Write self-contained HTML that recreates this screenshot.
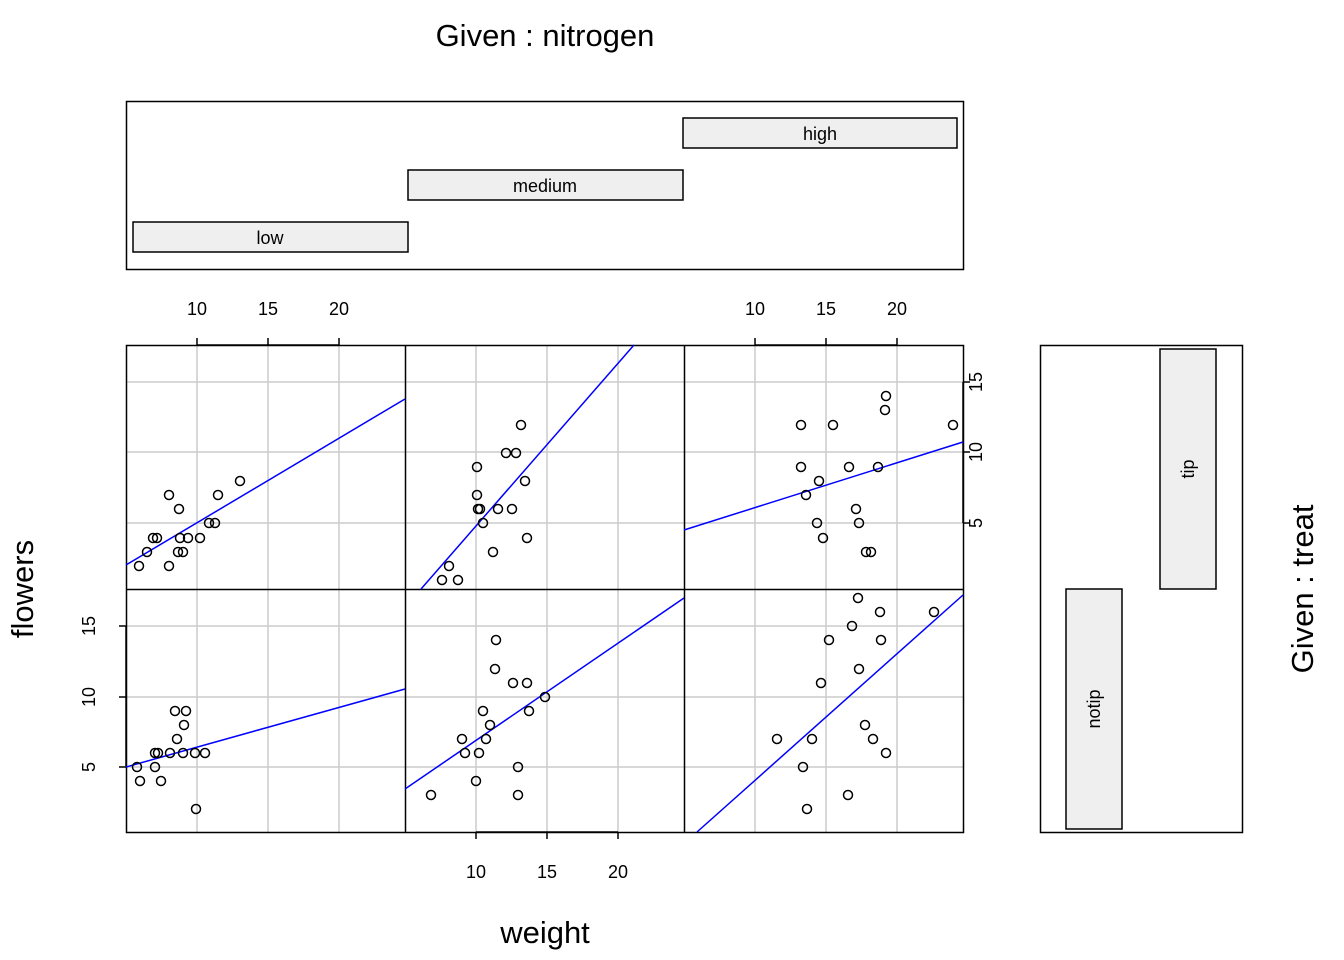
<!DOCTYPE html>
<html><head><meta charset="utf-8"><style>body{margin:0;background:#fff}svg{display:block}text{font-family:"Liberation Sans",sans-serif;fill:#000}</style></head>
<body>
<svg width="1344" height="960" viewBox="0 0 1344 960" xmlns="http://www.w3.org/2000/svg">
<text x="545" y="46" font-size="31" text-anchor="middle">Given : nitrogen</text>
<rect x="126.5" y="101.5" width="837" height="168" fill="none" stroke="#000" stroke-width="1.5"/>
<rect x="133" y="222" width="275" height="30" fill="#efefef" stroke="#000" stroke-width="1.5"/>
<text x="270" y="244" font-size="18" text-anchor="middle">low</text>
<rect x="408" y="170" width="275" height="30" fill="#efefef" stroke="#000" stroke-width="1.5"/>
<text x="545" y="192" font-size="18" text-anchor="middle">medium</text>
<rect x="683" y="118" width="274" height="30" fill="#efefef" stroke="#000" stroke-width="1.5"/>
<text x="820" y="140" font-size="18" text-anchor="middle">high</text>

<g stroke="#cccccc" stroke-width="1.5">
<path d="M197 345V832M268 345V832M339 345V832M476 345V832M547 345V832M618 345V832M755 345V832M826 345V832M897 345V832"/>
<path d="M126 382H963M126 452H963M126 523H963M126 626H963M126 697H963M126 767H963"/>
</g>
<g fill="none" stroke="#000" stroke-width="1.5">
<rect x="126.5" y="345.5" width="837" height="487"/>
<path d="M405.5 345V832M684.5 345V832M126 589.5H963"/>
<path d="M197 345H339M197 345V338M268 345V338M339 345V338"/>
<path d="M755 345H897M755 345V338M826 345V338M897 345V338"/>
<path d="M476 832H618M476 832V839M547 832V839M618 832V839"/>
<path d="M963 382V523M963 382H970M963 452H970M963 523H970"/>
<path d="M126 626V767M126 626H119M126 697H119M126 767H119"/>
</g>
<g font-size="18" text-anchor="middle">
<text x="197" y="315">10</text><text x="268" y="315">15</text><text x="339" y="315">20</text>
<text x="755" y="315">10</text><text x="826" y="315">15</text><text x="897" y="315">20</text>
<text x="476" y="878">10</text><text x="547" y="878">15</text><text x="618" y="878">20</text>
<text transform="translate(982,382) rotate(-90)">15</text><text transform="translate(982,452) rotate(-90)">10</text><text transform="translate(982,523) rotate(-90)">5</text>
<text transform="translate(95,626) rotate(-90)">15</text><text transform="translate(95,697) rotate(-90)">10</text><text transform="translate(95,767) rotate(-90)">5</text>
</g>
<g stroke="#0000ff" stroke-width="1.5" fill="none">
<path d="M126 565L405 399"/>
<path d="M421 589L634 345"/>
<path d="M684 530L963 442"/>
<path d="M126 767L405 689"/>
<path d="M405 789L684 598"/>
<path d="M697 832L963 595"/>
</g>
<g fill="none" stroke="#000" stroke-width="1.5">
<circle cx="139" cy="566" r="4.5"/><circle cx="169" cy="566" r="4.5"/><circle cx="147" cy="552" r="4.5"/><circle cx="178" cy="552" r="4.5"/><circle cx="183" cy="552" r="4.5"/><circle cx="153" cy="538" r="4.5"/><circle cx="157" cy="538" r="4.5"/><circle cx="180" cy="538" r="4.5"/><circle cx="188" cy="538" r="4.5"/><circle cx="200" cy="538" r="4.5"/><circle cx="209" cy="523" r="4.5"/><circle cx="215" cy="523" r="4.5"/><circle cx="169" cy="495" r="4.5"/><circle cx="179" cy="509" r="4.5"/><circle cx="218" cy="495" r="4.5"/><circle cx="240" cy="481" r="4.5"/>
<circle cx="442" cy="580" r="4.5"/><circle cx="458" cy="580" r="4.5"/><circle cx="449" cy="566" r="4.5"/><circle cx="493" cy="552" r="4.5"/><circle cx="527" cy="538" r="4.5"/><circle cx="483" cy="523" r="4.5"/><circle cx="478" cy="509" r="4.5"/><circle cx="480" cy="509" r="4.5"/><circle cx="498" cy="509" r="4.5"/><circle cx="512" cy="509" r="4.5"/><circle cx="477" cy="495" r="4.5"/><circle cx="525" cy="481" r="4.5"/><circle cx="477" cy="467" r="4.5"/><circle cx="506" cy="453" r="4.5"/><circle cx="516" cy="453" r="4.5"/><circle cx="521" cy="425" r="4.5"/>
<circle cx="801" cy="425" r="4.5"/><circle cx="833" cy="425" r="4.5"/><circle cx="886" cy="396" r="4.5"/><circle cx="885" cy="410" r="4.5"/><circle cx="953" cy="425" r="4.5"/><circle cx="801" cy="467" r="4.5"/><circle cx="849" cy="467" r="4.5"/><circle cx="878" cy="467" r="4.5"/><circle cx="819" cy="481" r="4.5"/><circle cx="806" cy="495" r="4.5"/><circle cx="856" cy="509" r="4.5"/><circle cx="817" cy="523" r="4.5"/><circle cx="859" cy="523" r="4.5"/><circle cx="823" cy="538" r="4.5"/><circle cx="866" cy="552" r="4.5"/><circle cx="871" cy="552" r="4.5"/>
<circle cx="175" cy="711" r="4.5"/><circle cx="186" cy="711" r="4.5"/><circle cx="184" cy="725" r="4.5"/><circle cx="177" cy="739" r="4.5"/><circle cx="155" cy="753" r="4.5"/><circle cx="158" cy="753" r="4.5"/><circle cx="170" cy="753" r="4.5"/><circle cx="183" cy="753" r="4.5"/><circle cx="195" cy="753" r="4.5"/><circle cx="205" cy="753" r="4.5"/><circle cx="137" cy="767" r="4.5"/><circle cx="155" cy="767" r="4.5"/><circle cx="140" cy="781" r="4.5"/><circle cx="161" cy="781" r="4.5"/><circle cx="196" cy="809" r="4.5"/>
<circle cx="496" cy="640" r="4.5"/><circle cx="495" cy="669" r="4.5"/><circle cx="513" cy="683" r="4.5"/><circle cx="527" cy="683" r="4.5"/><circle cx="545" cy="697" r="4.5"/><circle cx="483" cy="711" r="4.5"/><circle cx="529" cy="711" r="4.5"/><circle cx="490" cy="725" r="4.5"/><circle cx="462" cy="739" r="4.5"/><circle cx="486" cy="739" r="4.5"/><circle cx="465" cy="753" r="4.5"/><circle cx="479" cy="753" r="4.5"/><circle cx="476" cy="781" r="4.5"/><circle cx="518" cy="767" r="4.5"/><circle cx="431" cy="795" r="4.5"/><circle cx="518" cy="795" r="4.5"/>
<circle cx="858" cy="598" r="4.5"/><circle cx="880" cy="612" r="4.5"/><circle cx="934" cy="612" r="4.5"/><circle cx="829" cy="640" r="4.5"/><circle cx="852" cy="626" r="4.5"/><circle cx="881" cy="640" r="4.5"/><circle cx="859" cy="669" r="4.5"/><circle cx="821" cy="683" r="4.5"/><circle cx="865" cy="725" r="4.5"/><circle cx="873" cy="739" r="4.5"/><circle cx="777" cy="739" r="4.5"/><circle cx="812" cy="739" r="4.5"/><circle cx="886" cy="753" r="4.5"/><circle cx="803" cy="767" r="4.5"/><circle cx="848" cy="795" r="4.5"/><circle cx="807" cy="809" r="4.5"/>
</g>
<rect x="1040.5" y="345.5" width="202" height="487" fill="none" stroke="#000" stroke-width="1.5"/>
<rect x="1066" y="589" width="56" height="240" fill="#efefef" stroke="#000" stroke-width="1.5"/>
<text transform="translate(1100,709) rotate(-90)" font-size="18" text-anchor="middle">notip</text>
<rect x="1160" y="349" width="56" height="240" fill="#efefef" stroke="#000" stroke-width="1.5"/>
<text transform="translate(1194,469) rotate(-90)" font-size="18" text-anchor="middle">tip</text>
<text transform="translate(1313,589) rotate(-90)" font-size="31" text-anchor="middle">Given : treat</text>
<text transform="translate(33,589) rotate(-90)" font-size="31" text-anchor="middle">flowers</text>
<text x="545" y="943" font-size="31" text-anchor="middle">weight</text>
</svg>
</body></html>
